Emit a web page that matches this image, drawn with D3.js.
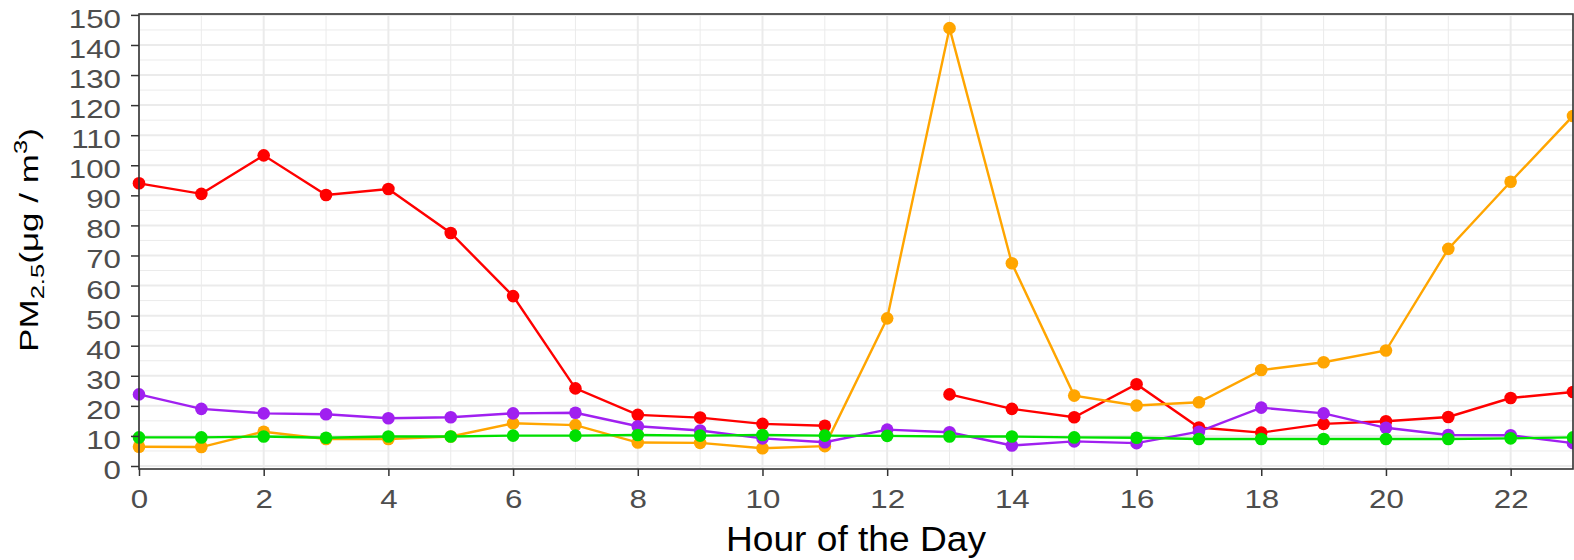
<!DOCTYPE html>
<meta charset="utf-8">
<style>
  body { margin: 0; background: #fff; }
  svg text { font-family: "Liberation Sans", Arial, sans-serif; }
  .tick text { fill: #4d4d4d; font-size: 26.5px; }
  .tick line { stroke: #333; stroke-width: 1.5; }
  .domain { display: none; }
</style>
<script src="https://d3js.org/d3.v7.min.js"></script>
<div id="chart"></div>
<script>
// hours of the day
var hours = d3.range(0, 24);

// PM2.5 series, one value per hour (null = no data)
var redVals = [94.0, 90.5, 103.3, 90.1, 92.1, 77.5, 56.5, 25.8, 17.0, 16.1, 14.0, 13.4,
  null, 23.8, 19.0, 16.2, 27.2, 12.8, 11.1, 14.0, 14.9, 16.3, 22.6, 24.6];
var orangeVals = [6.4, 6.3, 11.4, 9.0, 9.0, 9.8, 14.2, 13.6, 7.8, 7.7, 5.9, 6.6,
  49.1, 145.6, 67.4, 23.4, 20.1, 21.2, 31.9, 34.5, 38.4, 72.2, 94.5, 116.4];
var purpleVals = [23.8, 19.0, 17.5, 17.2, 15.9, 16.2, 17.5, 17.7, 13.2, 11.8, 9.2, 7.9,
  12.1, 11.2, 6.8, 8.2, 7.6, 11.4, 19.4, 17.5, 12.7, 10.3, 10.2, 7.6];
var greenVals = [9.5, 9.5, 9.8, 9.4, 9.8, 9.8, 10.1, 10.1, 10.3, 10.1, 10.3, 10.1,
  10.0, 9.8, 9.8, 9.5, 9.4, 9.0, 9.0, 9.0, 9.0, 9.0, 9.2, 9.5];

var seriesColors = ["#ff0000", "#ffa500", "#a020f0", "#00e000"];
var yTicks = d3.range(0, 151, 10);
var xTicks = d3.range(0, 24, 2);

var series = [redVals, orangeVals, purpleVals, greenVals].map(function(vals, i) {
  return { color: seriesColors[i], values: hours.map(function(h, j) { return { h: h, v: vals[j] }; }) };
});

var W = 1574, H = 560;
var margin = {top: 14, right: 1, bottom: 91, left: 139};
var width = W - margin.left - margin.right,
    height = H - margin.top - margin.bottom;
var sx = 1.18; // the text in the original is a bit wide

var svg = d3.select("#chart").append("svg")
  .attr("width", W).attr("height", H);

var g = svg.append("g")
  .attr("transform", "translate(" + margin.left + "," + margin.top + ")");

var x = d3.scaleLinear().domain([0, 23]).range([0, width]);
var y = d3.scaleLinear().domain([-1, 150.3]).range([height, 0]);

// grid: minor then major
function vgrid(vals, w) {
  g.append("g").selectAll("line")
    .data(vals).enter().append("line")
    .attr("x1", function(d) { return x(d); }).attr("x2", function(d) { return x(d); })
    .attr("y1", 0).attr("y2", height)
    .attr("stroke", "#ebebeb").attr("stroke-width", w);
}
function hgrid(vals, w) {
  g.append("g").selectAll("line")
    .data(vals).enter().append("line")
    .attr("x1", 0).attr("x2", width)
    .attr("y1", function(d) { return y(d); }).attr("y2", function(d) { return y(d); })
    .attr("stroke", "#ebebeb").attr("stroke-width", w);
}
vgrid(d3.range(1, 24, 2), 1);
hgrid(d3.range(5, 150, 10), 1);
vgrid(xTicks, 2);
hgrid(yTicks, 2);

// lines and points
var line = d3.line()
  .defined(function(d) { return d.v != null; })
  .x(function(d) { return x(d.h); })
  .y(function(d) { return y(d.v); });

svg.append("clipPath").attr("id", "clip")
  .append("rect").attr("x", -7).attr("y", -7).attr("width", width + 7).attr("height", height + 14);

var plot = g.append("g").attr("clip-path", "url(#clip)");

series.forEach(function(s) {
  plot.append("path")
    .datum(s.values)
    .attr("d", line)
    .attr("fill", "none")
    .attr("stroke", s.color)
    .attr("stroke-width", 2.4);
  plot.selectAll(null)
    .data(s.values.filter(function(d) { return d.v != null; }))
    .enter().append("circle")
    .attr("cx", function(d) { return x(d.h); })
    .attr("cy", function(d) { return y(d.v); })
    .attr("r", 6.3)
    .attr("fill", s.color);
});

// panel border
g.append("rect")
  .attr("x", 0).attr("y", 0).attr("width", width).attr("height", height)
  .attr("fill", "none").attr("stroke", "#333").attr("stroke-width", 1.6);

// axes
var xa = g.append("g")
  .attr("transform", "translate(0," + height + ")")
  .call(d3.axisBottom(x).tickValues(xTicks).tickSize(7).tickPadding(6));
xa.selectAll(".tick text")
  .attr("y", 39).attr("dy", null)
  .attr("transform", "scale(" + sx + ",1)");

var ya = g.append("g")
  .call(d3.axisLeft(y).tickValues(yTicks).tickSize(8).tickPadding(10));
ya.selectAll(".tick text")
  .attr("x", -18 / sx).attr("dy", "0.47em")
  .attr("transform", "scale(" + sx + ",1)");

// axis titles
var xt = svg.append("text")
  .attr("text-anchor", "middle")
  .style("font-size", "35.5px").attr("fill", "#000")
  .text("Hour of the Day");
var xs = 260 / xt.node().getComputedTextLength();
xt.attr("transform", "translate(" + (margin.left + width / 2) + ",551) scale(" + xs + ",1)");

var ytg = svg.append("g");
var yt = ytg.append("text")
  .attr("text-anchor", "middle")
  .style("font-size", "26px").attr("fill", "#000");
yt.append("tspan").text("PM");
yt.append("tspan").attr("dy", 6).style("font-size", "19px").text("2.5");
yt.append("tspan").attr("dy", -6).text("(μg / m");
yt.append("tspan").attr("dy", -11).style("font-size", "19px").text("3");
yt.append("tspan").attr("dy", 11).text(")");
var ylen = yt.node().getBBox().width;
ytg.attr("transform", "translate(38,240) rotate(-90) scale(" + (224 / ylen) + ",1)");
</script>
